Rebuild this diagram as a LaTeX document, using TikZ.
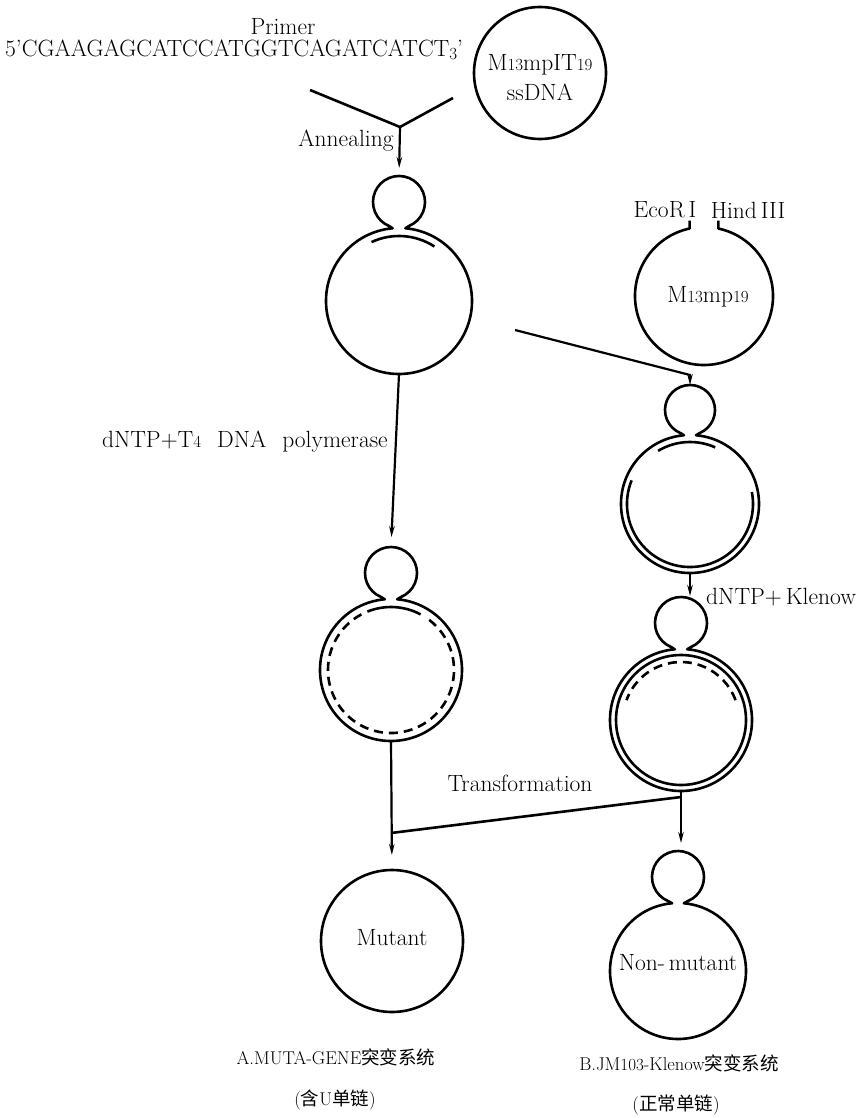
\documentclass[tikz,border=0pt]{standalone}
\usepackage{fontspec}
\newfontfamily\cjk{Noto Sans CJK SC}
\usetikzlibrary{calc,arrows.meta}
\newcommand\sn[1]{{\fontsize{17}{20}\selectfont #1}}
% name, bx, by (down), rb, rs
\newcommand\budcell[5]{%
  \node[hole, minimum size=#4*2pt] (#1) at (#2,-#3) {};
  \node[hole, minimum size=#5*2pt] (#1s) at (#2,-#3+#4+#5) {};
  \draw[strand] ($(#1s.center)+(-68:#5pt)$) arc[start angle=-68,end angle=248,radius=#5pt]
     -- ($(#1.center)+(95:#4pt)$) arc[start angle=95,end angle=445,radius=#4pt] -- cycle;
}
\begin{document}
\begin{tikzpicture}[x=1pt,y=1pt,
  strand/.style={line width=2.6pt, line join=round},
  conn/.style={line width=2.2pt, -{Stealth[length=11pt,width=5.5pt]}},
  hole/.style={circle, inner sep=0pt, outer sep=0pt, draw=none},
  lbl/.style={font=\fontsize{23.5}{27}\selectfont, inner sep=0pt},
  captxt/.style={font=\fontsize{18.5}{22}\selectfont, inner sep=0pt},
  dsh/.style={line width=2.6pt, dash pattern=on 9pt off 6pt}]
\useasboundingbox (0,0) rectangle (858,-1118);
\fill[white] (0,0) rectangle (858,-1118);

% top: primer and ssDNA
\node[lbl] (primer) at (283,-27) {Primer};
\node[lbl, anchor=west] (seq) at (5,-50) {5'CGAAGAGCATCCATGGTCAGATCATCT\raisebox{-3pt}{\sn{3}}'};
\node[hole, draw, strand, minimum size=132pt] (ss) at (540,-73) {};
\node[lbl] (ssA) at (540,-65) {M\sn{13}mpIT\sn{19}};
\node[lbl] (ssB) at (540,-92) {ssDNA};

\coordinate (ya) at (310,-90);
\coordinate (yb) at (453,-98);
\coordinate (yj) at (400,-127);
\draw[strand] (ya) -- (yj) -- (yb);
\node[lbl] (anneal) at (346,-141) {Annealing};

% left column
\budcell{La}{399}{301}{73}{26}
\draw[strand] ($(La.center)+(57:65pt)$) arc[start angle=57,end angle=115,radius=65pt];
\draw[conn, shorten >=8pt] (yj) -- (Las.north);

\budcell{Lb}{391}{670}{71}{26}
\draw[strand] ($(Lb.center)+(62:63pt)$) arc[start angle=62,end angle=112,radius=63pt];
\draw[dsh] ($(Lb.center)+(118:63pt)$) arc[start angle=118,end angle=416,radius=63pt];
\draw[conn, shorten >=10pt] (La.south) -- (Lbs.north);
\node[lbl, anchor=east] (poly) at (388,-442) {dNTP+T\sn{4}\hspace{16pt}DNA\hspace{16pt}polymerase};

% right column
\node[hole, minimum size=138pt] (m19) at (704,-296) {};
\draw[strand] ($(m19.center)+(102:69pt)+(0,8)$) -- ($(m19.center)+(102:69pt)$)
   arc[start angle=102,end angle=438,radius=69pt] -- ++(0,8);
\node[lbl] (eco) at (665,-210) {EcoR\,I};
\node[lbl] (hind) at (748,-210) {Hind\,III};
\node[lbl] (m19t) at (708,-297) {M\sn{13}mp\sn{19}};

\budcell{Ra}{690}{504}{69}{25}
\draw[strand] ($(Ra.center)+(66:62pt)$) arc[start angle=66,end angle=121,radius=62pt];
\draw[strand] ($(Ra.center)+(158:63pt)$) arc[start angle=158,end angle=371,radius=63pt];
\coordinate (cL) at (515,-330);
\coordinate (cR) at (690,-375);
\draw[conn] (cL) -- (cR) -- (Ras.north);

\budcell{Rb}{681}{720}{71}{26}
\draw[strand] (Rb.center) circle[radius=65pt];
\draw[dsh] ($(Rb.center)+(20:58pt)$) arc[start angle=20,end angle=160,radius=58pt];
\draw[conn, shorten >=1pt] (Ra.south) -- (Ra.south |- Rbs.north);
\node[lbl, anchor=west] (klen) at (706,-597) {dNTP+\,Klenow};

% bottom
\node[hole, draw, strand, minimum size=142pt] (mut) at (392,-941) {};
\node[lbl] (mutt) at (392,-938) {Mutant};
\budcell{Nm}{678}{971}{68}{26}
\node[lbl] (nmt) at (678,-963) {Non-\,mutant};
\coordinate (jL) at (391,-833);
\coordinate (jR) at (681,-797);
\draw[conn, shorten >=15pt] (Lb.south) -- (mut.north);
\draw[strand] (jL) -- (jR);
\draw[conn, shorten >=8pt] (Rb.south) -- (Rb.south |- Nms.north);
\node[lbl] (trans) at (520,-783) {Transformation};

\node[captxt] (capA) at (336,-1057) {A.MUTA-GENE{\cjk 突变系统}};
\node[captxt] (capA2) at (335,-1100) {({\cjk 含}U{\cjk 单链})};
\node[captxt] (capB) at (679,-1063) {B.JM\sn{103}-Klenow{\cjk 突变系统}};
\node[captxt] (capB2) at (676,-1105) {({\cjk 正常单链})};
\end{tikzpicture}
\end{document}
